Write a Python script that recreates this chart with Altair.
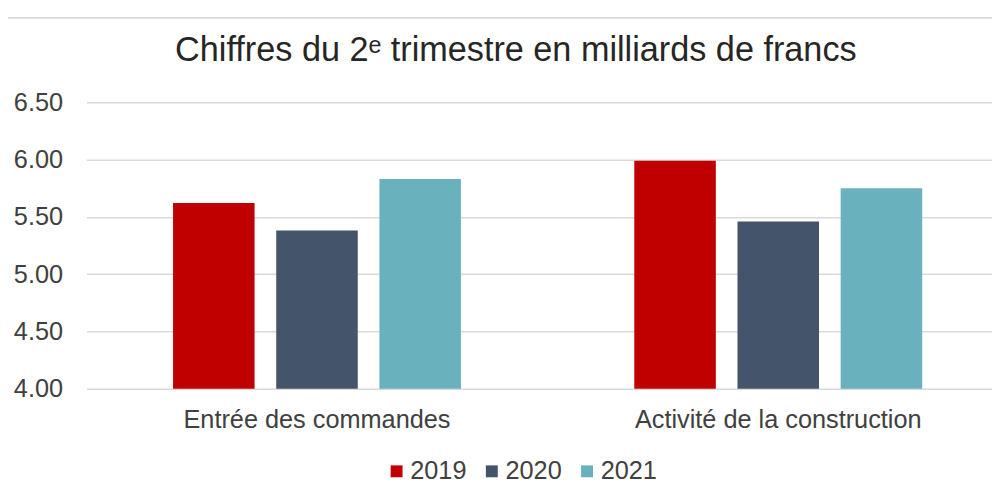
import altair as alt
import pandas as pd

categories = ["Entrée des commandes", "Activité de la construction"]
years = ["2019", "2020", "2021"]
values_2019 = [5.62, 5.99]
values_2020 = [5.38, 5.46]
values_2021 = [5.83, 5.75]
colors = ["#C00000", "#44546A", "#69B2BD"]
y_ticks = [4.0, 4.5, 5.0, 5.5, 6.0, 6.5]

rows = []
for yr, vals in zip(years, [values_2019, values_2020, values_2021]):
    for c, v in zip(categories, vals):
        rows.append({"cat": c, "year": yr, "value": v})
df = pd.DataFrame(rows)

FONT = "Liberation Sans"
TXT = "#404040"
GRID = "#D9D9D9"
FS = 25.5

bars = alt.Chart(df).mark_bar().encode(
    x=alt.X("cat:N", sort=categories, title=None,
            scale=alt.Scale(range=[0, 930], paddingInner=0, paddingOuter=0),
            axis=alt.Axis(labelAngle=0, ticks=False, domain=False, labelPadding=19,
                          labelLimit=600, labelFontSize=FS, labelColor=TXT,
                          labelFont=FONT, grid=False)),
    xOffset=alt.XOffset("year:N", sort=years,
                        scale=alt.Scale(paddingInner=0.21, paddingOuter=0.84)),
    y=alt.Y("value:Q", title=None,
            scale=alt.Scale(domain=[4, 6.5], zero=False, nice=False),
            axis=alt.Axis(values=y_ticks, format=".2f", ticks=False, domain=False,
                          labelPadding=24, labelFontSize=FS, labelColor=TXT, labelFont=FONT,
                          gridColor=GRID, gridWidth=1.5)),
    y2=alt.datum(4.0),
    color=alt.Color("year:N", sort=years,
                    scale=alt.Scale(domain=years, range=colors),
                    legend=alt.Legend(title=None, orient="none", direction="horizontal",
                                      legendX=300, legendY=359, symbolType="square",
                                      symbolSize=144, labelFontSize=FS, labelColor=TXT,
                                      labelFont=FONT, columnPadding=12, labelOffset=1,
                                      symbolStrokeWidth=0)),
)

one = pd.DataFrame({"a": [0]})
frame_top = alt.Chart(one).mark_rule(color=GRID, strokeWidth=2).encode(
    x=alt.value(-85), x2=alt.value(913), y=alt.value(-85))
frame_left = alt.Chart(one).mark_rule(color=GRID, strokeWidth=2).encode(
    x=alt.value(-85), y=alt.value(-85), y2=alt.value(400))

chart = alt.layer(frame_top, frame_left, bars).properties(
    width=910,
    height=289,
    title=alt.Title("Chiffres du 2ᵉ trimestre en milliards de francs", fontSize=34.5,
                    font=FONT, color="#262626", fontWeight="normal", offset=0, dy=52,
                    dx=-22, anchor="middle"),
    autosize=alt.AutoSizeParams(type="none"),
    padding={"left": 79, "top": 93, "right": 3, "bottom": 100},
).configure_view(stroke=None)

chart.save("out.html", embed_options={"renderer": "svg", "actions": False})
